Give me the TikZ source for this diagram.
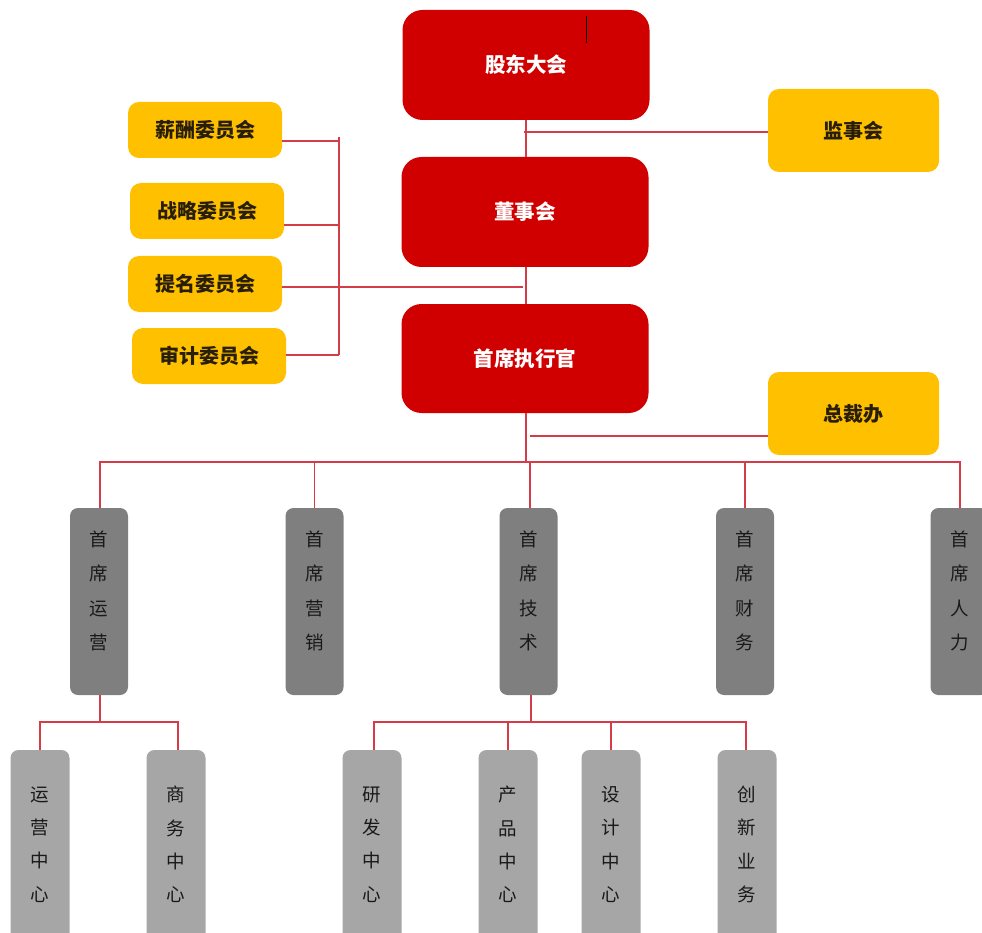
\documentclass[tikz,border=0pt]{standalone}
\usepackage{fontspec}
\newfontfamily\cjk{Noto Sans CJK SC}
\definecolor{cRed}{RGB}{208,0,0}
\definecolor{cYel}{RGB}{255,192,0}
\definecolor{cGd}{RGB}{127,127,127}
\definecolor{cGl}{RGB}{166,166,166}
\definecolor{cLine}{RGB}{212,60,72}
\definecolor{cTxt}{RGB}{40,30,10}
\tikzset{
  redbox/.style={fill=cRed, rounded corners=20pt, minimum width=247pt, minimum height=110pt, inner sep=0pt, text=white, font=\cjk\bfseries\fontsize{20.5}{24}\selectfont},
  ybox/.style={fill=cYel, rounded corners=11pt, inner sep=0pt, text=cTxt, font=\cjk\bfseries\fontsize{20}{24}\selectfont},
  combox/.style={ybox, minimum width=154pt, minimum height=56pt},
  sidebox/.style={ybox, minimum width=171pt, minimum height=83pt},
  gbox/.style={fill=cGd, rounded corners=8pt, minimum width=58pt, minimum height=187pt, inner sep=0pt},
  lbox/.style={fill=cGl, rounded corners=8pt, minimum width=59pt, minimum height=212pt, inner sep=0pt},
  vtext/.style={align=center, inner sep=0pt, text=black!90, font=\cjk\fontsize{18.5}{34.3}\selectfont},
  vtextb/.style={align=center, inner sep=0pt, text=black!90, font=\cjk\fontsize{18.5}{33.3}\selectfont},
  link/.style={draw=cLine, line width=1.1pt}
}
\begin{document}
\begin{tikzpicture}[x=1pt,y=-1pt]
\useasboundingbox (0,0) rectangle (982,933);
\clip (0,0) rectangle (982,933);
% top red boxes
\node[redbox] (gdh) at (526,65) {股东大会};
\node[redbox] (dsh) at (525,212) {董事会};
\node[redbox, minimum height=109pt] (ceo) at (525,358.5) {首席执行官};
% side yellow boxes
\node[sidebox] (jsh) at (853.5,130.5) {监事会};
\node[sidebox] (zcb) at (853.5,413.5) {总裁办};
% committees
\node[combox] (c1) at (205,130) {薪酬委员会};
\node[combox] (c2) at (207,211) {战略委员会};
\node[combox] (c3) at (205,284) {提名委员会};
\node[combox] (c4) at (209,356) {审计委员会};
% cursor mark
\coordinate (curA) at (586.5,16);
\coordinate (curB) at (586.5,43);
\draw[black, line width=1.6pt] (curA) -- (curB);
% second level gray boxes
\node[gbox] (coo) at (99,601.5) {};
\node[gbox] (cmo) at (314.5,601.5) {};
\node[gbox] (cto) at (528.5,601.5) {};
\node[gbox] (cfo) at (745,601.5) {};
\node[gbox] (cho) at (959.5,601.5) {};
\node[vtext] (tcoo) at (99,591) {首\\席\\运\\营};
\node[vtext] (tcmo) at (314.5,591) {首\\席\\营\\销};
\node[vtext] (tcto) at (528.5,591) {首\\席\\技\\术};
\node[vtext] (tcfo) at (745,591) {首\\席\\财\\务};
\node[vtext] (tcho) at (959.5,591) {首\\席\\人\\力};
% third level light gray boxes
\node[lbox] (ops) at (40,856) {};
\node[lbox] (biz) at (176,856) {};
\node[lbox] (rd)  at (372,856) {};
\node[lbox] (pd)  at (508,856) {};
\node[lbox] (dsg) at (611,856) {};
\node[lbox] (inn) at (747,856) {};
\node[vtextb] (tops) at (40,844.5) {运\\营\\中\\心};
\node[vtextb] (tbiz) at (176,844.5) {商\\务\\中\\心};
\node[vtextb] (trd)  at (372,844.5) {研\\发\\中\\心};
\node[vtextb] (tpd)  at (508,844.5) {产\\品\\中\\心};
\node[vtextb] (tdsg) at (611,844.5) {设\\计\\中\\心};
\node[vtextb] (tinn) at (747,844.5) {创\\新\\业\\务};
% connectors: top chain
\draw[link] (gdh.south) -- (gdh.south |- dsh.north);
\coordinate (jshY) at (524,132);
\draw[link] (jshY) -- (jshY -| jsh.west);
\draw[link] ([xshift=1pt]dsh.south) -- ([xshift=1pt]dsh.south |- ceo.north);
% committees bracket
\coordinate (brT) at (339,137);
\coordinate (brB) at (339,355);
\draw[link] (brT) -- (brB);
\draw[link] ([yshift=-11pt]c1.east) -- ([yshift=-11pt]c1.east -| brT);
\draw[link] ([yshift=-14pt]c2.east) -- ([yshift=-14pt]c2.east -| brT);
\draw[link] ([yshift=1pt]c4.east) -- ([yshift=1pt]c4.east -| brT);
\coordinate (tmEnd) at (523,287);
\draw[link] (c3.east |- tmEnd) -- (tmEnd);
% CEO down
\coordinate (bus1) at (526,462);
\draw[link] (ceo.south -| bus1) -- (bus1);
\coordinate (zcbY) at (530,436);
\draw[link] (zcbY) -- (zcbY -| zcb.west);
\draw[link] ([xshift=1pt]coo.north) -- ([xshift=1pt]coo.north |- bus1) -- ([xshift=0.5pt]cho.north |- bus1) -- ([xshift=0.5pt]cho.north);
\draw[link] (cmo.north) -- (cmo.north |- bus1);
\draw[link] ([xshift=1.5pt]cto.north) -- ([xshift=1.5pt]cto.north |- bus1);
\draw[link] (cfo.north) -- (cfo.north |- bus1);
% operations subtree
\coordinate (bus2) at (100,722);
\draw[link] ([xshift=1pt]coo.south) -- (bus2);
\draw[link] (ops.north) -- (ops.north |- bus2) -- ([xshift=2pt]biz.north |- bus2) -- ([xshift=2pt]biz.north);
% technology subtree
\coordinate (bus3) at (531,722);
\draw[link] ([xshift=2.5pt]cto.south) -- (bus3);
\draw[link] ([xshift=2pt]rd.north) -- ([xshift=2pt]rd.north |- bus3) -- ([xshift=-1pt]inn.north |- bus3) -- ([xshift=-1pt]inn.north);
\draw[link] (pd.north) -- (pd.north |- bus3);
\draw[link] (dsg.north) -- (dsg.north |- bus3);
\end{tikzpicture}
\end{document}
